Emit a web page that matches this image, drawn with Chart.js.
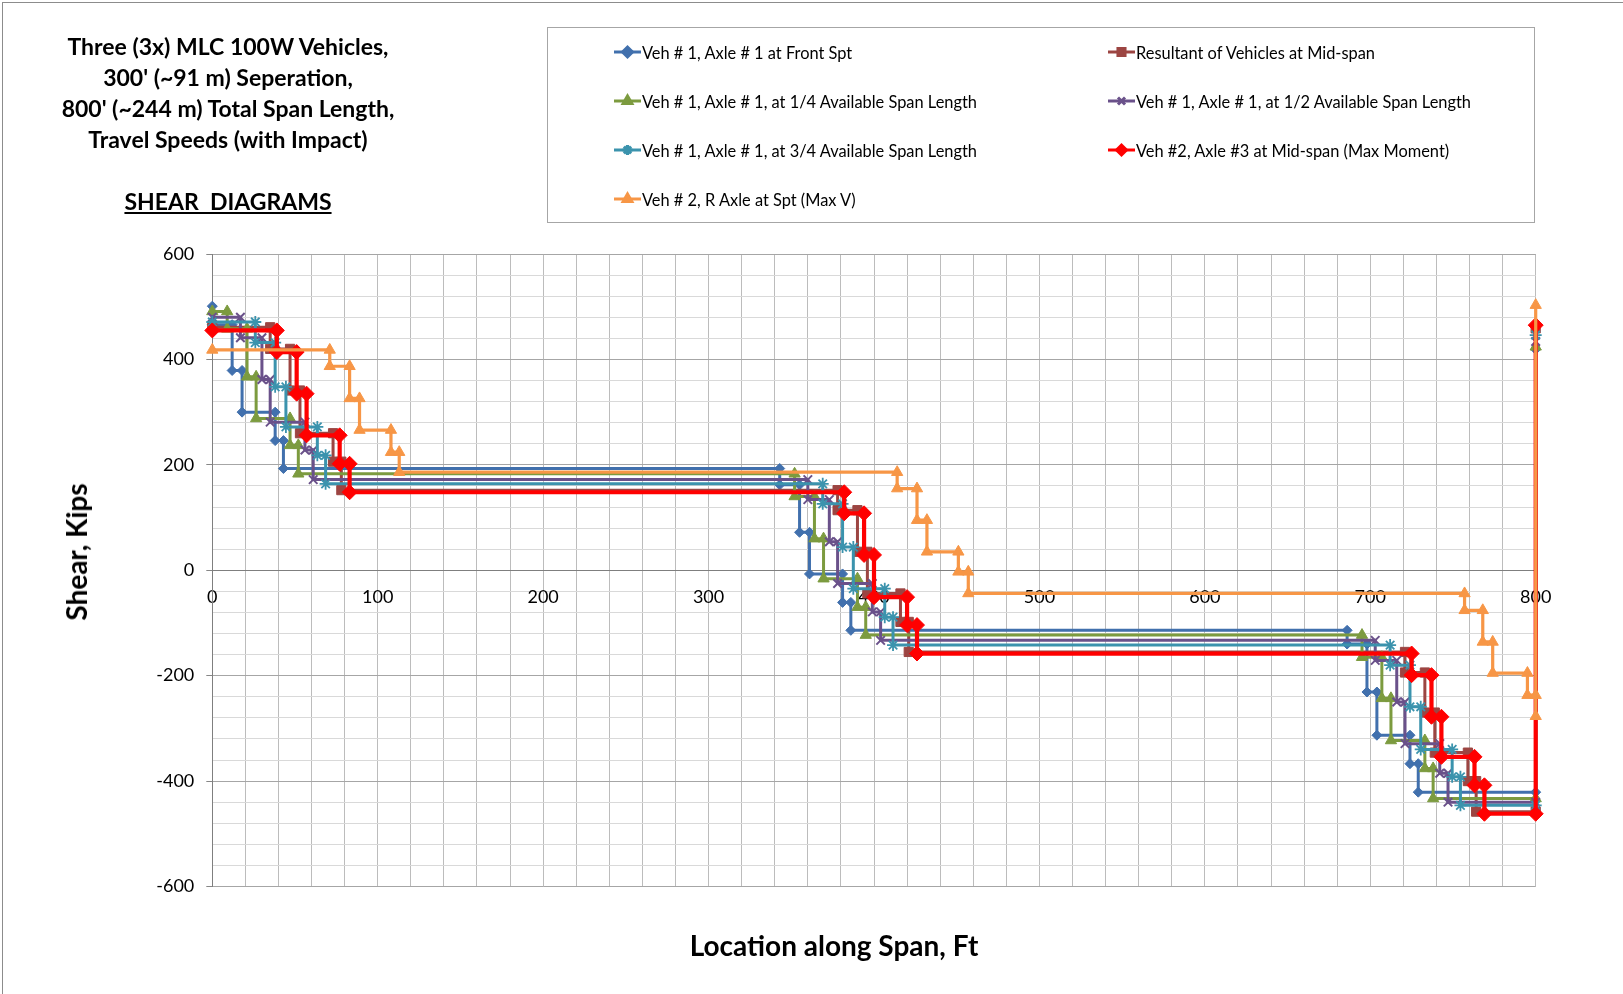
<!DOCTYPE html>
<html><head><meta charset="utf-8">
<script src="https://cdn.jsdelivr.net/npm/chart.js@4.4.0/dist/chart.umd.min.js"></script>
<style>
html,body{margin:0;padding:0;background:#fff;}
body{width:1623px;height:994px;position:relative;overflow:hidden;font-family:Lato,'Open Sans',sans-serif;}
#frame{position:absolute;left:2px;top:2px;width:1650px;height:1020px;border:1px solid #8c8c8c;}
#c{position:absolute;left:0;top:0;}
.t{position:absolute;font-weight:bold;color:#000;white-space:pre;text-align:center;}
#legend{position:absolute;left:547px;top:27px;width:988px;height:196px;border:1px solid #a6a6a6;box-sizing:border-box;}
.li{position:absolute;font-size:16.4px;color:#000;white-space:pre;display:flex;align-items:center;height:20px;}
.li canvas{margin-right:1px;}
</style></head>
<body>
<div id="frame"></div>
<canvas id="c" width="1623" height="994"></canvas>
<div class="t" style="left:8px;top:31px;width:440px;font-size:23px;line-height:31px;">Three (3x) MLC 100W Vehicles,
300' (~91 m) Seperation,
800' (~244 m) Total Span Length,
Travel Speeds (with Impact)</div>
<div class="t" style="left:8px;top:186px;width:440px;font-size:23px;line-height:31px;text-decoration:underline;">SHEAR  DIAGRAMS</div>
<div class="t" style="left:76px;top:552px;font-size:28px;transform:translate(-50%,-50%) rotate(-90deg);">Shear, Kips</div>
<div class="t" style="left:834px;top:945px;font-size:28px;transform:translate(-50%,-50%);">Location along Span, Ft</div>
<div id="legend"></div>
<script>
const seriesNames = [
  "Veh # 1, Axle # 1 at Front Spt",
  "Resultant of Vehicles at Mid-span",
  "Veh # 1, Axle # 1, at 1/4 Available Span Length",
  "Veh # 1, Axle # 1, at 1/2 Available Span Length",
  "Veh # 1, Axle # 1, at 3/4 Available Span Length",
  "Veh #2, Axle #3 at Mid-span (Max Moment)",
  "Veh # 2, R Axle at Spt (Max V)"
];
const blueX = [0,0,12,12,18,18,38,38,43,43,343,343,355,355,361,361,381,381,386,386,686,686,698,698,704,704,724,724,729,729,800,800];
const blueY = [501,466,466,379,379,300,300,246,246,193,193,162,162,72,72,-7,-7,-61,-61,-114,-114,-140,-140,-231,-231,-313,-313,-367,-367,-421,-421,419];
const brownX = [0,35,35,47,47,53,53,73,73,78,78,378,378,390,390,396,396,416,416,421,421,721,721,733,733,739,739,759,759,764,764,800,800];
const brownY = [461,461,420,420,341,341,260,260,206,206,152,152,114,114,35,35,-44,-44,-98,-98,-155,-155,-194,-194,-270,-270,-346,-346,-400,-400,-458,-458,459];
const greenX = [0,9,9,21,21,26.5,26.5,47,47,52,52,352,352,364,364,369.5,369.5,390,390,395,395,695,695,707,707,712.5,712.5,733,733,738,738,800,800];
const greenY = [491,491,458,458,367,367,288,288,237,237,183,183,140,140,60,60,-16,-16,-70,-70,-123,-123,-165,-165,-243,-243,-323,-323,-376,-376,-433,-433,424];
const purpleX = [0,17,17,30,30,35,35,56,56,61,61,360,360,373,373,378,378,399,399,404,404,703,703,716,716,721,721,742,742,747,747,800,800];
const purpleY = [480,480,441,441,362,362,281,281,228,228,172,172,134,134,54,54,-25,-25,-79,-79,-133,-133,-171,-171,-250,-250,-329,-329,-385,-385,-440,-440,434];
const tealX = [0,26,26,38,38,44.5,44.5,63.5,63.5,68.5,68.5,369,369,381,381,387.5,387.5,406.5,406.5,411.5,411.5,712,712,724,724,730.5,730.5,749.5,749.5,754.5,754.5,800,800];
const tealY = [471,471,432,432,348,348,272,272,218,218,164,164,126,126,44,44,-35,-35,-89,-89,-142,-142,-180,-180,-259,-259,-340,-340,-392,-392,-446,-446,446];
const redX = [0,39,39,51,51,57,57,77,77,83,83,382,382,394,394,400,400,420,420,426,426,725,725,737,737,743,743,763,763,769,769,800,800];
const redY = [455,455,414,414,335,335,256,256,202,202,148,148,108,108,29,29,-51,-51,-104,-104,-158,-158,-199,-199,-278,-278,-354,-354,-408,-408,-462,-462,465];
const orangeX = [0,71,71,83,83,89,89,108,108,113,113,414,414,426,426,432,432,451,451,457,457,757,757,768,768,774,774,795,795,800,800,800];
const orangeY = [418,418,387,387,326,326,266,266,224,224,186,186,155,155,95,95,35,35,-3,-3,-44,-44,-76,-76,-136,-136,-195,-195,-237,-237,-277,503];

const xTicksMin = 0, xTicksMax = 800, xStep = 20, xLabelStep = 100;
const yTicksMin = -600, yTicksMax = 600, yStep = 40, yLabelStep = 200;

const styles = [
  {c:'#4170ad', ps:'rectRot', r:5, lw:3, bw:1},
  {c:'#9c4542', ps:'rect', r:6.5, lw:3, bw:1},
  {c:'#7c9b3f', ps:'triangle', r:6.5, lw:3, bw:1},
  {c:'#6a518a', ps:'crossRot', r:6, lw:3, bw:2},
  {c:'#3b93ad', ps:'star', r:6, lw:3, bw:1.8},
  {c:'#ff0000', ps:'rectRot', r:7.5, lw:4.2, bw:1},
  {c:'#f79646', ps:'triangle', r:6.5, lw:3.2, bw:1}
];
const xs = [blueX, brownX, greenX, purpleX, tealX, redX, orangeX];
const ys = [blueY, brownY, greenY, purpleY, tealY, redY, orangeY];
const orders = [6,5,4,3,2,1,0];

const datasets = seriesNames.map((name,i)=>({
  label: name,
  data: xs[i].map((x,k)=>({x:x, y:ys[i][k]})),
  showLine: true,
  borderColor: styles[i].c,
  backgroundColor: styles[i].c,
  borderWidth: styles[i].lw,
  pointStyle: styles[i].ps,
  pointRadius: styles[i].r,
  pointBorderWidth: styles[i].bw,
  pointBackgroundColor: styles[i].c,
  pointBorderColor: styles[i].c,
  tension: 0,
  clip: false,
  order: orders[i]
}));

new Chart(document.getElementById('c'), {
  type: 'scatter',
  data: {datasets},
  options: {
    responsive: false,
    animation: false,
    devicePixelRatio: 1,
    layout: {padding: {left: 0, top: 254, right: 87.3, bottom: 107.5}},
    plugins: {legend: {display: false}, tooltip: {enabled: false}},
    scales: {
      x: {
        type: 'linear', min: xTicksMin, max: xTicksMax, position: {y: 0},
        ticks: {stepSize: xStep, autoSkip: false, maxRotation: 0, padding: 10, color: '#000',
          font: {family: 'Lato', size: 18},
          callback: v => (v % xLabelStep === 0 ? String(v) : '')},
        grid: {color: '#bcbcbc', lineWidth: 1, tickLength: 6, tickColor: 'rgba(0,0,0,0)'},
        border: {display: true, color: '#7f7f7f', width: 1}
      },
      y: {
        type: 'linear', min: yTicksMin, max: yTicksMax, position: 'left',
        afterFit: s => { s.width = 212.3; },
        ticks: {stepSize: yStep, autoSkip: false, padding: 12, color: '#000',
          font: {family: 'Lato', size: 18},
          callback: v => (v % yLabelStep === 0 ? String(v) : '')},
        grid: {
          color: ctx => (ctx.tick && ctx.tick.value % yLabelStep === 0 ? '#a6a6a6' : '#d9d9d9'),
          tickColor: ctx => (ctx.tick && ctx.tick.value % yLabelStep === 0 ? '#868686' : 'rgba(0,0,0,0)'),
          tickLength: 6, lineWidth: 1
        },
        border: {display: true, color: '#7f7f7f', width: 1}
      }
    }
  }
});

// legend
const legend = document.getElementById('legend');
const legPos = [[66,24],[560,24],[66,73],[560,73],[66,122],[560,122],[66,171]];
seriesNames.forEach((name,i)=>{
  const d = document.createElement('div');
  d.className = 'li';
  d.style.left = legPos[i][0] + 'px';
  d.style.top = (legPos[i][1] - 10) + 'px';
  const cv = document.createElement('canvas');
  cv.width = 27; cv.height = 20;
  const ctx = cv.getContext('2d');
  ctx.strokeStyle = styles[i].c; ctx.lineWidth = 3;
  ctx.beginPath(); ctx.moveTo(0,10); ctx.lineTo(27,10); ctx.stroke();
  ctx.fillStyle = styles[i].c;
  Chart.helpers.drawPoint(ctx, {pointStyle: styles[i].ps, radius: Math.min(styles[i].r, 5), borderWidth: styles[i].bw, rotation: 0}, 13.5, 10);
  d.appendChild(cv);
  const s = document.createElement('span');
  s.textContent = name;
  d.appendChild(s);
  legend.appendChild(d);
});
</script>
</body></html>
